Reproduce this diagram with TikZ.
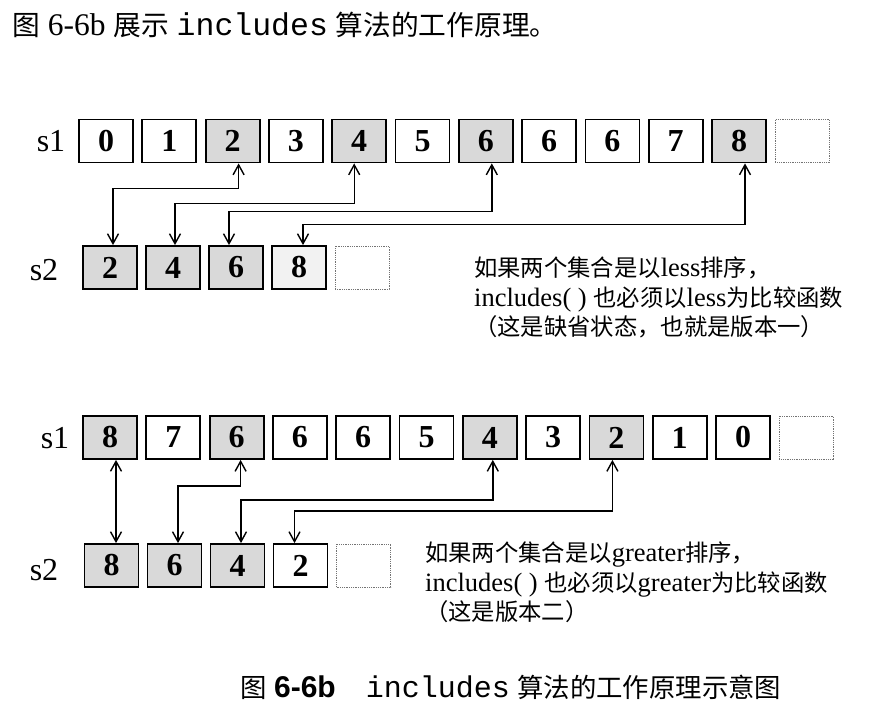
\documentclass[tikz,border=0pt]{standalone}
\usepackage{fontspec}
\setmainfont{Liberation Serif}
\setsansfont{Liberation Sans}
\setmonofont{Liberation Mono}
\newfontfamily\cjk[Scale=0.88]{Noto Sans CJK SC}
\usetikzlibrary{arrows.meta}
\tikzset{
  cell/.style = {draw,line width=1.8pt,minimum width=54pt,minimum height=43pt,inner sep=0pt,font=\fontsize{32}{32}\bfseries},
  hcell/.style = {cell,fill=black!15},
  lcell/.style = {cell,fill=black!5},
  nocell/.style = {draw=black!55,densely dotted,line width=0.8pt,minimum width=54pt,minimum height=43pt},
  rowlabel/.style = {font=\fontsize{32}{32}\selectfont,inner sep=0pt},
  link/.style = {line width=1.4pt,{Straight Barb[length=10pt,width=11pt]}-{Straight Barb[length=10pt,width=11pt]}},
  note/.style = {align=left,inner sep=0pt,font=\fontsize{26.5}{29.5}\selectfont}
}

\begin{document}
\begin{tikzpicture}[x=1pt,y=-1pt]
    \useasboundingbox (0,0) rectangle (885,715);
    \node [anchor=west,inner sep=0pt,font=\fontsize{31.5}{33}\selectfont] (title) at (12,25)
        {{\cjk 图}~6-6b~{\cjk 展示}~\texttt{includes}~{\cjk 算法的工作原理。}};
    % less
    \node [rowlabel] (ls1) at (51,141) {s1};
    \node [rowlabel] (ls2) at (44,270) {s2};
    \foreach \v/\s [count=\i from 0] in {0/cell,1/cell,2/hcell,3/cell,4/hcell,5/cell,6/hcell,6/cell,6/cell,7/cell,8/hcell}
        \node [\s] (ta\i) at ({106+63.3*\i},141) {\v};
    \node [nocell] (ta11) at ({106+63.3*11},141) {};
    \foreach \v/\s [count=\i from 0] in {2/hcell,4/hcell,6/hcell,8/lcell}
        \node [\s] (tb\i) at ({110+63*\i},267.5) {\v};
    \node [nocell] (tb4) at ({110+63*4},267.5) {};
    \draw [link] ([xshift=6pt]ta2.south) -- ++(0,25) -| ([xshift=3pt]tb0.north);
    \draw [link] ([xshift=-5pt]ta4.south) -- ++(0,40) -| ([xshift=2pt]tb1.north);
    \draw [link] ([xshift=6pt]ta6.south) -- ++(0,48) -| ([xshift=-7pt]tb2.north);
    \draw [link] ([xshift=6pt]ta10.south) -- ++(0,61) -| ([xshift=4pt]tb3.north);
    \node [note,anchor=north west] (n1) at (474,257)
        {{\cjk 如果两个集合是以}less{\cjk 排序，}\\
         includes( ) {\cjk 也必须以}less{\cjk 为比较函数}\\
         {\cjk （这是缺省状态，也就是版本一）}};
    % greater
    \node [rowlabel] (gs1) at (55,438) {s1};
    \node [rowlabel] (gs2) at (44,570) {s2};
    \foreach \v/\s [count=\i from 0] in {8/hcell,7/cell,6/hcell,6/cell,6/cell,5/cell,4/hcell,3/cell,2/hcell,1/cell,0/cell}
        \node [\s] (ba\i) at ({110+63.3*\i},437.5) {\v};
    \node [nocell] (ba11) at ({110+63.3*11},437.5) {};
    \foreach \v/\s [count=\i from 0] in {8/hcell,6/hcell,4/hcell,2/cell}
        \node [\s] (bb\i) at ({111.5+63*\i},565.5) {\v};
    \node [nocell] (bb4) at ({111.5+63*4},565.5) {};
    \draw [link] ([xshift=6pt]ba0.south) -- ([xshift=6pt]ba0.south |- bb0.north);
    \draw [link] ([xshift=4pt]ba2.south) -- ++(0,26) -| ([xshift=3.5pt]bb1.north);
    \draw [link] ([xshift=3pt]ba6.south) -- ++(0,40) -| ([xshift=3.5pt]bb2.north);
    \draw [link] ([xshift=-4pt]ba8.south) -- ++(0,51) -| ([xshift=-6pt]bb3.north);
    \node [note,anchor=north west] (n2) at (425,542)
        {{\cjk 如果两个集合是以}greater{\cjk 排序，}\\
         includes( ) {\cjk 也必须以}greater{\cjk 为比较函数}\\
         {\cjk （这是版本二）}};
    \node [anchor=west,inner sep=0pt,font=\fontsize{30}{32}\selectfont] (caption) at (240,687)
        {{\cjk 图}~{\sffamily\bfseries 6-6b}\quad\texttt{includes}~{\cjk 算法的工作原理示意图}};
\end{tikzpicture}
\end{document}
